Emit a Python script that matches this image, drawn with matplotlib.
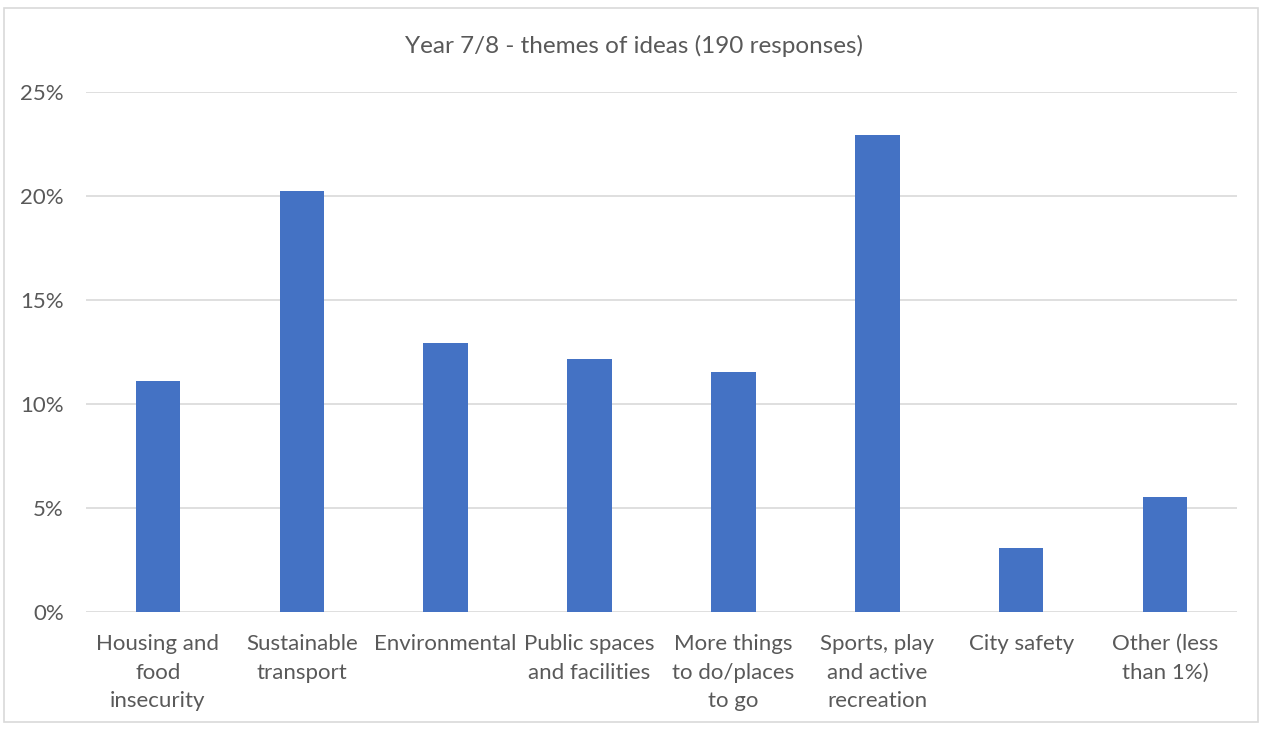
import matplotlib
matplotlib.use("Agg")
import matplotlib.pyplot as plt
from matplotlib.ticker import PercentFormatter
from matplotlib.patches import Rectangle

categories = ["Housing and\nfood\ninsecurity", "Sustainable\ntransport", "Environmental",
              "Public spaces\nand facilities", "More things\nto do/places\nto go",
              "Sports, play\nand active\nrecreation", "City safety", "Other (less\nthan 1%)"]
values = [11.1, 20.25, 12.95, 12.15, 11.55, 22.95, 3.1, 5.55]
yticks = [0, 5, 10, 15, 20, 25]

plt.rcParams['font.family'] = ['Lato', 'DejaVu Sans']
grey = "#595959"

fig = plt.figure(figsize=(12.62, 7.29), dpi=100)
ax = fig.add_axes([86/1262, 1-612/729, (1237-86)/1262, (612-92)/729])

x = list(range(len(categories)))
ax.bar(x, values, width=0.31, color="#4472C4", zorder=3)
ax.set_xlim(-0.5, len(categories)-0.5)
ax.set_ylim(0, 25)
ax.set_yticks(yticks)
ax.yaxis.set_major_formatter(PercentFormatter(decimals=0))
ax.set_xticks(x)
ax.set_xticklabels(categories, fontsize=16, color=grey, linespacing=1.52)
ax.tick_params(axis='y', labelsize=16, labelcolor=grey, length=0, pad=16)
ax.tick_params(axis='x', length=0, pad=16)
ax.grid(axis='y', color="#d9d9d9", linewidth=1.2, zorder=0)
for s in ax.spines.values():
    s.set_visible(False)

fig.text(634/1262, 1-46/729, "Year 7/8 - themes of ideas (190 responses)", ha='center', va='center',
         fontsize=17.5, color=grey)

fig.patches.append(Rectangle((4/1262, 1-722/729), 1254/1262, 714/729, transform=fig.transFigure,
                             fill=False, edgecolor="#d9d9d9", linewidth=1.2))

fig.savefig("out.png", dpi=100)
